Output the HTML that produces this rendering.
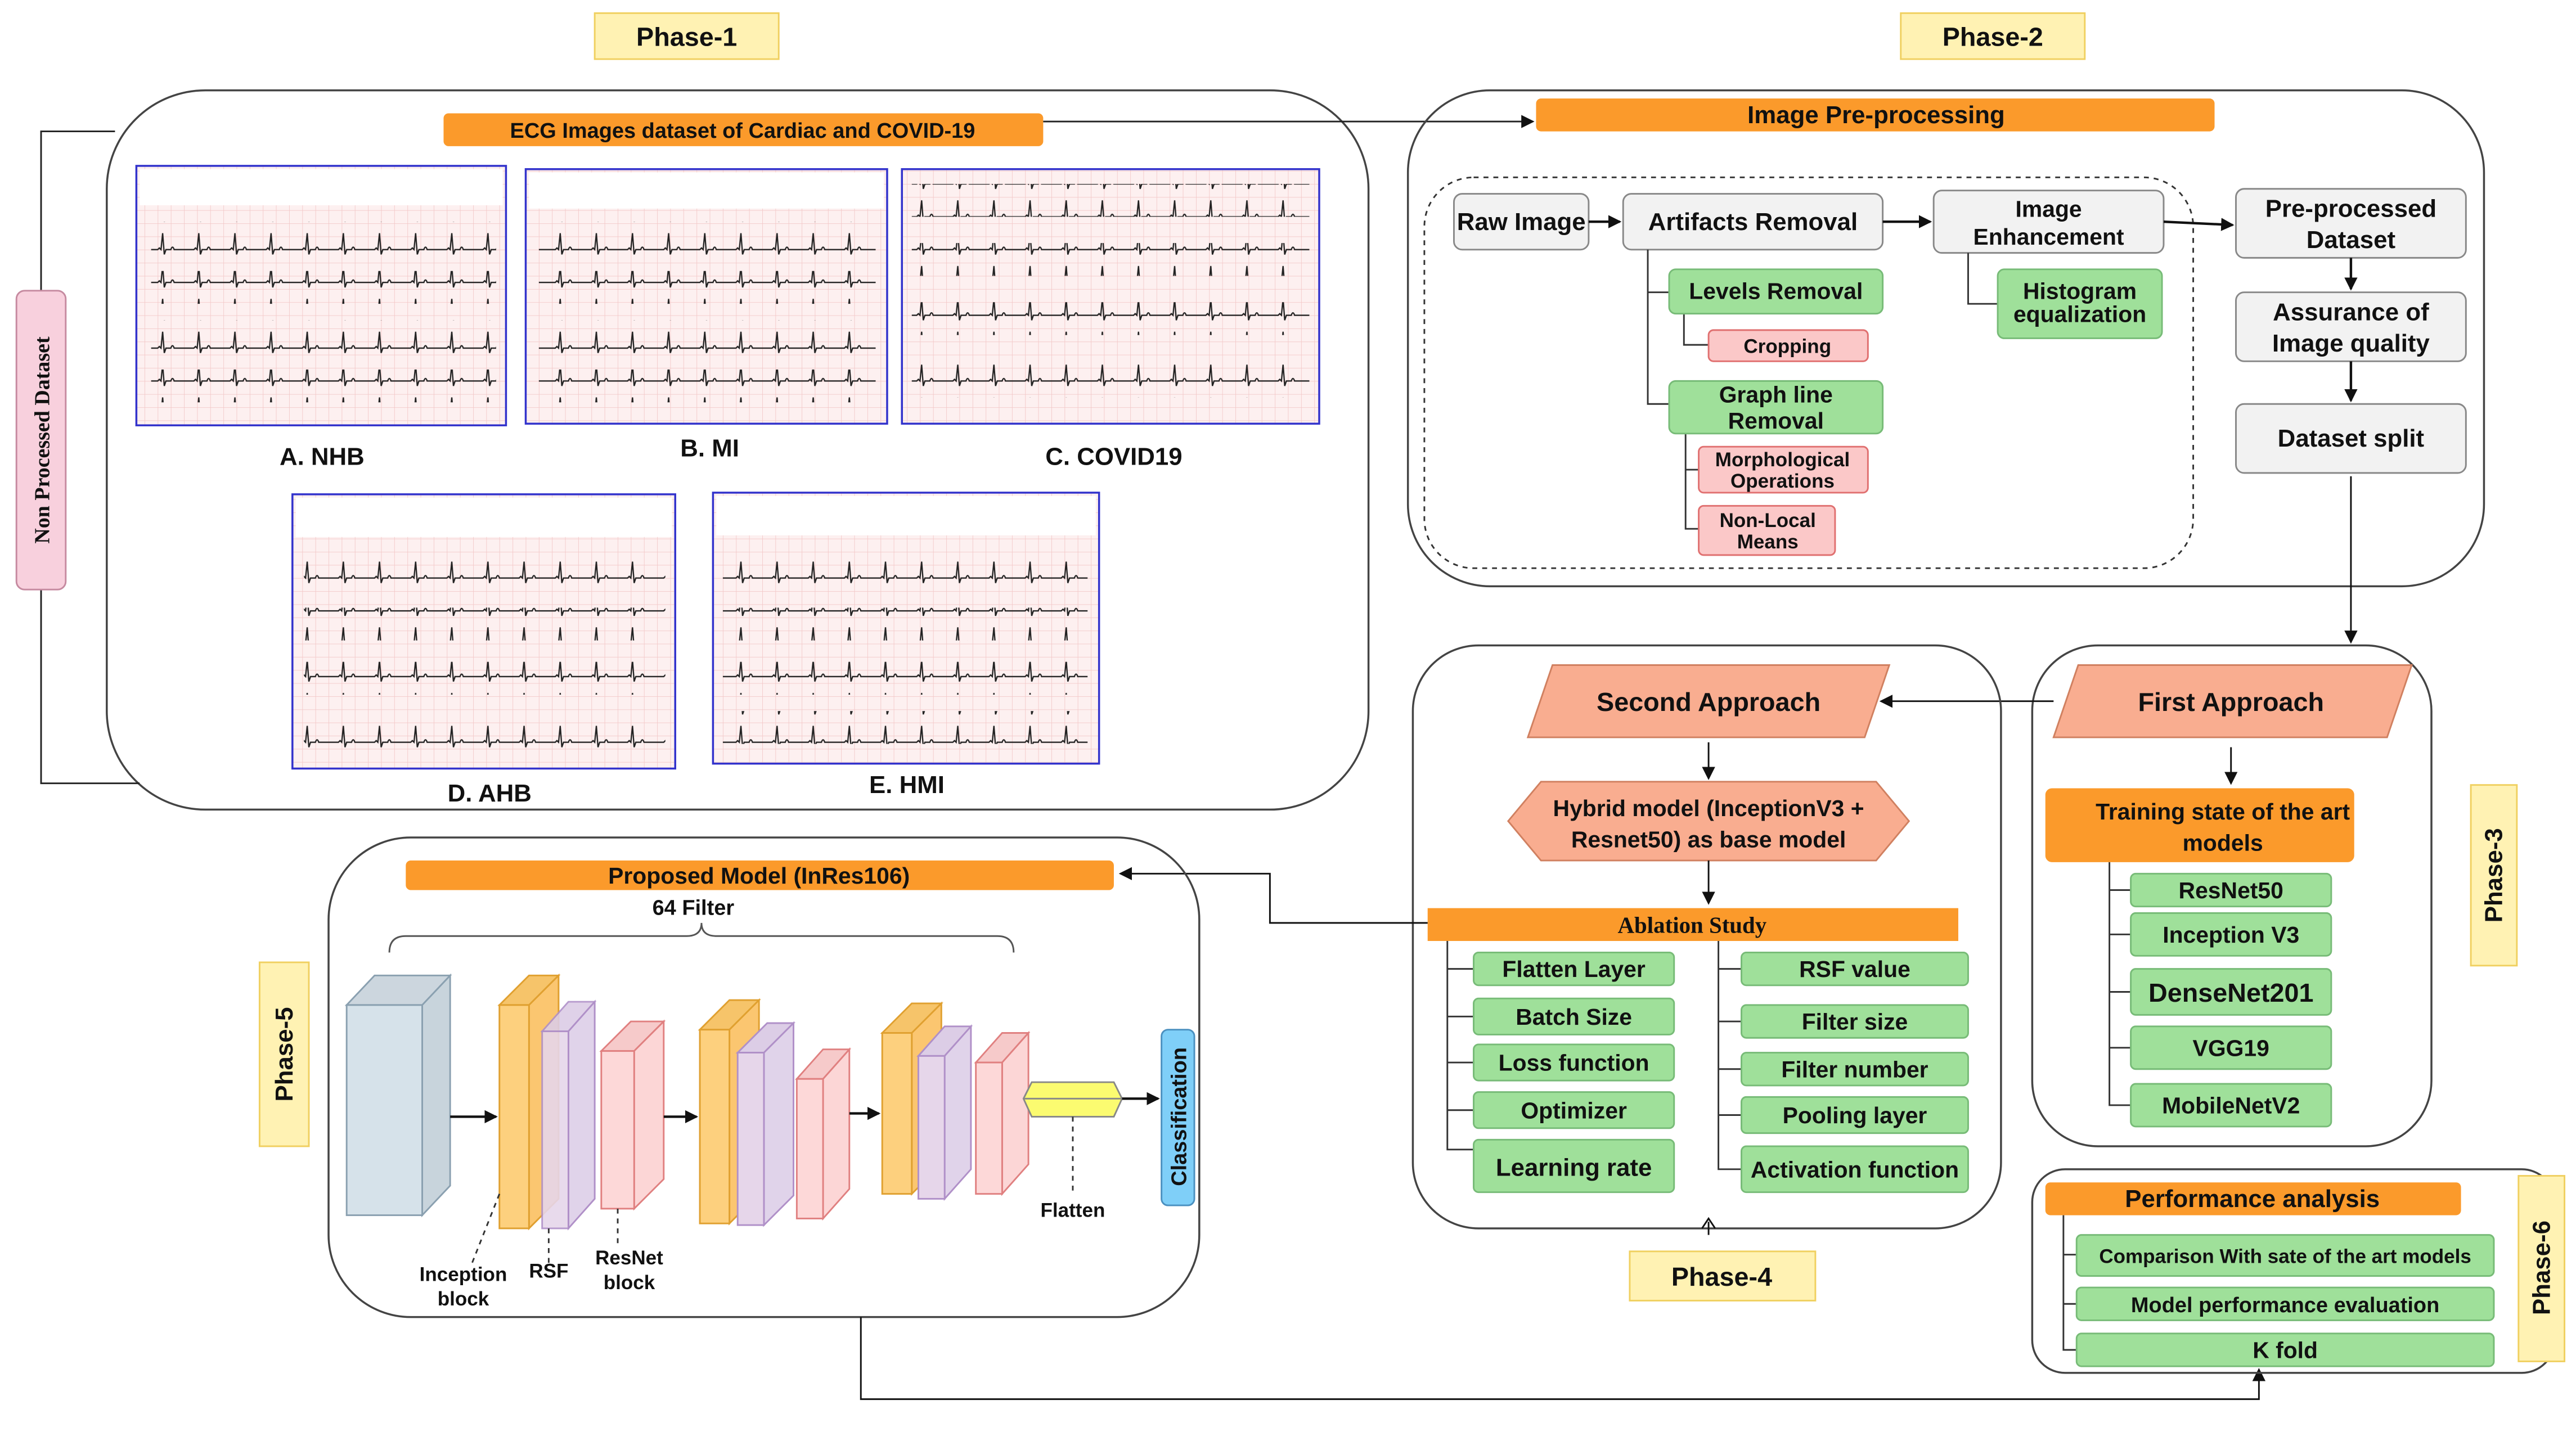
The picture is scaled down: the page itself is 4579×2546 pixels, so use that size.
<!DOCTYPE html>
<html><head><meta charset="utf-8"><style>
html,body{margin:0;padding:0;background:#fff;}
svg{display:block;}
text{font-family:"Liberation Sans",sans-serif;font-weight:bold;fill:#111;}
</style></head><body>
<svg width="4579" height="2546" viewBox="0 0 1568 872" preserveAspectRatio="none" xmlns="http://www.w3.org/2000/svg">
<defs>
<pattern id="grid" width="8" height="8" patternUnits="userSpaceOnUse">
<rect width="8" height="8" fill="#fdf0f0"/><path d="M0 0H8M0 0V8" stroke="#f3c8c8" stroke-width="0.6"/>
</pattern>
<pattern id="beat" width="22" height="20" patternUnits="userSpaceOnUse">
<path d="M0 12H8L9 11L10 12L11 2L12 15L13 12H16Q17 9 18 12H22" fill="none" stroke="#222" stroke-width="0.8"/>
</pattern>
<marker id="ar" markerWidth="8" markerHeight="8" refX="7" refY="4" orient="auto" markerUnits="userSpaceOnUse"><path d="M0 0L8 4L0 8z" fill="#111"/></marker>
</defs>

<!-- Phase labels -->
<rect x="362" y="8" width="112" height="28" fill="#fff2b3" stroke="#f0d060"/><text x="418" y="28" font-size="16" text-anchor="middle">Phase-1</text>
<rect x="1157" y="8" width="112" height="28" fill="#fff2b3" stroke="#f0d060"/><text x="1213" y="28" font-size="16" text-anchor="middle">Phase-2</text>

<!-- Phase 1 -->
<rect x="65" y="55" width="768" height="438" rx="60" fill="none" stroke="#444" stroke-width="1.2"/>
<path d="M70 80H25V477H85" fill="none" stroke="#222" stroke-width="1"/>
<rect x="10" y="177" width="30" height="182" rx="5" fill="#f8d0dd" stroke="#c68aa0"/>
<text transform="translate(30,268) rotate(-90)" font-size="13" text-anchor="middle" style="font-family:'Liberation Serif',serif">Non Processed Dataset</text>
<rect x="270" y="69" width="365" height="20" rx="3" fill="#fb9a2b"/><text x="452" y="84" font-size="13" text-anchor="middle">ECG Images dataset of Cardiac and COVID-19</text>
<path d="M635 74H933" stroke="#222" marker-end="url(#ar)"/>

<g stroke-width="1.2">
<rect x="83" y="101" width="225" height="158" fill="url(#grid)" stroke="#3333cc"/>
<rect x="320" y="103" width="220" height="155" fill="url(#grid)" stroke="#3333cc"/>
<rect x="549" y="103" width="254" height="155" fill="url(#grid)" stroke="#3333cc"/>
<rect x="178" y="301" width="233" height="167" fill="url(#grid)" stroke="#3333cc"/>
<rect x="434" y="300" width="235" height="165" fill="url(#grid)" stroke="#3333cc"/>
</g>
<g fill="#fff"><rect x="85" y="103" width="221" height="22"/><rect x="322" y="105" width="216" height="22"/><rect x="180" y="303" width="229" height="24"/><rect x="436" y="302" width="231" height="24"/></g>
<g fill="url(#beat)">
<rect x="92" y="135" width="210" height="20"/><rect x="92" y="165" width="210" height="20"/><rect x="92" y="195" width="210" height="20"/><rect x="92" y="225" width="210" height="20"/>
<rect x="328" y="135" width="205" height="20"/><rect x="328" y="165" width="205" height="20"/><rect x="328" y="195" width="205" height="20"/><rect x="328" y="225" width="205" height="20"/>
<rect x="555" y="112" width="242" height="20"/><rect x="555" y="148" width="242" height="20"/><rect x="555" y="184" width="242" height="20"/><rect x="555" y="222" width="242" height="20"/>
<rect x="185" y="338" width="220" height="20"/><rect x="185" y="370" width="220" height="20"/><rect x="185" y="403" width="220" height="20"/><rect x="185" y="437" width="220" height="20"/>
<rect x="440" y="338" width="222" height="20"/><rect x="440" y="370" width="222" height="20"/><rect x="440" y="403" width="222" height="20"/><rect x="440" y="433" width="222" height="20"/>
</g>
<g font-size="15" text-anchor="middle">
<text x="196" y="283">A. NHB</text><text x="432" y="278">B. MI</text><text x="678" y="283">C. COVID19</text>
<text x="298" y="488">D. AHB</text><text x="552" y="483">E. HMI</text>
</g>

<!-- Phase 2 -->
<rect x="857" y="55" width="655" height="302" rx="50" fill="none" stroke="#444" stroke-width="1.2"/>
<rect x="935" y="60" width="413" height="20" rx="3" fill="#fb9a2b"/><text x="1142" y="75" font-size="15" text-anchor="middle">Image Pre-processing</text>
<rect x="867" y="108" width="468" height="238" rx="30" fill="none" stroke="#333" stroke-dasharray="3,3"/>
<g fill="#f2f2f2" stroke="#888">
<rect x="885" y="118" width="82" height="34" rx="5"/><rect x="988" y="118" width="158" height="34" rx="5"/>
<rect x="1177" y="116" width="140" height="38" rx="5"/>
<rect x="1361" y="115" width="140" height="42" rx="5"/><rect x="1361" y="178" width="140" height="42" rx="5"/><rect x="1361" y="246" width="140" height="42" rx="5"/>
</g>
<g font-size="15" text-anchor="middle">
<text x="926" y="140">Raw Image</text><text x="1067" y="140">Artifacts Removal</text>
<text x="1247" y="132" font-size="14">Image</text><text x="1247" y="149" font-size="14">Enhancement</text>
<text x="1431" y="132">Pre-processed</text><text x="1431" y="151">Dataset</text>
<text x="1431" y="195">Assurance of</text><text x="1431" y="214">Image quality</text>
<text x="1431" y="272">Dataset split</text>
</g>
<g stroke="#111" stroke-width="1.5" fill="none">
<path d="M967 135H986" marker-end="url(#ar)"/><path d="M1146 135H1175" marker-end="url(#ar)"/>
<path d="M1317 135L1359 137" marker-end="url(#ar)"/>
<path d="M1431 157V176" marker-end="url(#ar)"/><path d="M1431 220V244" marker-end="url(#ar)"/>
</g>
<g stroke="#333" fill="none">
<path d="M1003 152V246H1016M1003 178H1016"/><path d="M1025 191V210H1040"/>
<path d="M1026 264V322H1034M1026 286H1034"/><path d="M1198 154V185H1216"/>
</g>
<g fill="#9fe09a" stroke="#77bb77">
<rect x="1016" y="164" width="130" height="27" rx="4"/><rect x="1016" y="232" width="130" height="32" rx="4"/>
<rect x="1216" y="164" width="100" height="42" rx="4"/>
</g>
<g fill="#fbc8c8" stroke="#e07070">
<rect x="1040" y="201" width="97" height="19" rx="3"/><rect x="1034" y="272" width="103" height="28" rx="3"/><rect x="1034" y="308" width="83" height="30" rx="3"/>
</g>
<g text-anchor="middle" font-size="14">
<text x="1081" y="182">Levels Removal</text><text x="1081" y="245">Graph line</text><text x="1081" y="261">Removal</text>
<text x="1266" y="182">Histogram</text><text x="1266" y="196">equalization</text>
<text x="1088" y="215" font-size="12">Cropping</text>
<text x="1085" y="284" font-size="12">Morphological</text><text x="1085" y="297" font-size="12">Operations</text>
<text x="1076" y="321" font-size="12">Non-Local</text><text x="1076" y="334" font-size="12">Means</text>
</g>
<path d="M1431 290V391" stroke="#111" fill="none" marker-end="url(#ar)"/>

<!-- Phase 3 -->
<rect x="1237" y="393" width="243" height="305" rx="40" fill="none" stroke="#444" stroke-width="1.2"/>
<polygon points="1265,405 1468,405 1453,449 1250,449" fill="#f9ad90" stroke="#d08060"/>
<text x="1358" y="433" font-size="16" text-anchor="middle">First Approach</text>
<path d="M1250 427H1145" stroke="#111" marker-end="url(#ar)"/>
<path d="M1358 455V477" stroke="#111" marker-end="url(#ar)"/>
<rect x="1245" y="480" width="188" height="45" rx="4" fill="#fb9a2b"/>
<text x="1353" y="499" font-size="14" text-anchor="middle">Training state of the art</text><text x="1353" y="518" font-size="14" text-anchor="middle">models</text>
<path d="M1284 525V673H1297M1284 542H1297M1284 569H1297M1284 604H1297M1284 638H1297" stroke="#333" fill="none"/>
<g fill="#9fe09a" stroke="#77bb77">
<rect x="1297" y="532" width="122" height="20" rx="3"/><rect x="1297" y="556" width="122" height="26" rx="3"/>
<rect x="1297" y="590" width="122" height="28" rx="3"/><rect x="1297" y="625" width="122" height="26" rx="3"/><rect x="1297" y="660" width="122" height="26" rx="3"/>
</g>
<g font-size="14" text-anchor="middle"><text x="1358" y="547">ResNet50</text><text x="1358" y="574">Inception V3</text>
<text x="1358" y="610" font-size="16">DenseNet201</text><text x="1358" y="643">VGG19</text><text x="1358" y="678">MobileNetV2</text></g>
<rect x="1504" y="478" width="28" height="110" fill="#fff2b3" stroke="#f0d060"/>
<text transform="translate(1523,533) rotate(-90)" font-size="15" text-anchor="middle">Phase-3</text>

<!-- Phase 4 -->
<rect x="860" y="393" width="358" height="355" rx="40" fill="none" stroke="#444" stroke-width="1.2"/>
<polygon points="945,405 1150,405 1135,449 930,449" fill="#f9ad90" stroke="#d08060"/>
<text x="1040" y="433" font-size="16" text-anchor="middle">Second Approach</text>
<path d="M1040 452V474" stroke="#111" marker-end="url(#ar)"/>
<polygon points="938,476 1142,476 1162,500 1142,524 938,524 918,500" fill="#f9ad90" stroke="#d08060"/>
<text x="1040" y="497" font-size="14" text-anchor="middle">Hybrid model (InceptionV3 +</text><text x="1040" y="516" font-size="14" text-anchor="middle">Resnet50) as  base model</text>
<path d="M1040 524V550" stroke="#111" marker-end="url(#ar)"/>
<rect x="869" y="553" width="323" height="20" fill="#fb9a2b"/>
<text x="1030" y="568" font-size="14" text-anchor="middle" style="font-family:'Liberation Serif',serif">Ablation Study</text>
<path d="M881 573V700H897M881 590H897M881 619H897M881 647H897M881 676H897" stroke="#333" fill="none"/>
<path d="M1046 573V712H1060M1046 590H1060M1046 622H1060M1046 651H1060M1046 679H1060" stroke="#333" fill="none"/>
<g fill="#9fe09a" stroke="#77bb77">
<rect x="897" y="580" width="122" height="20" rx="3"/><rect x="897" y="608" width="122" height="22" rx="3"/><rect x="897" y="636" width="122" height="22" rx="3"/>
<rect x="897" y="665" width="122" height="22" rx="3"/><rect x="897" y="694" width="122" height="32" rx="3"/>
<rect x="1060" y="580" width="138" height="20" rx="3"/><rect x="1060" y="612" width="138" height="20" rx="3"/><rect x="1060" y="641" width="138" height="20" rx="3"/>
<rect x="1060" y="668" width="138" height="22" rx="3"/><rect x="1060" y="698" width="138" height="28" rx="3"/>
</g>
<g font-size="14" text-anchor="middle">
<text x="958" y="595">Flatten Layer</text><text x="958" y="624">Batch Size</text><text x="958" y="652">Loss function</text>
<text x="958" y="681">Optimizer</text><text x="958" y="716" font-size="15">Learning rate</text>
<text x="1129" y="595">RSF value</text><text x="1129" y="627">Filter size</text><text x="1129" y="656">Filter number</text>
<text x="1129" y="684">Pooling layer</text><text x="1129" y="717">Activation function</text>
</g>
<path d="M1040 752V744M1036 748L1040 742L1044 748" stroke="#111" fill="none"/>
<rect x="992" y="762" width="113" height="30" fill="#fff2b3" stroke="#f0d060"/><text x="1048" y="783" font-size="16" text-anchor="middle">Phase-4</text>
<path d="M869 562H773V532H682" stroke="#111" fill="none" marker-end="url(#ar)"/>

<!-- Phase 5 -->
<rect x="200" y="510" width="530" height="292" rx="50" fill="none" stroke="#444" stroke-width="1.2"/>
<rect x="247" y="524" width="431" height="18" rx="3" fill="#fb9a2b"/><text x="462" y="538" font-size="14" text-anchor="middle">Proposed Model (InRes106)</text>
<text x="422" y="557" font-size="13" text-anchor="middle">64 Filter</text>
<path d="M237 580Q237 570 247 570H418Q427 570 427 562Q427 570 436 570H607Q617 570 617 580" stroke="#555" fill="none"/>
<rect x="158" y="586" width="30" height="112" fill="#fff2b3" stroke="#f0d060"/>
<text transform="translate(178,642) rotate(-90)" font-size="15" text-anchor="middle">Phase-5</text>
<!-- blocks: front, top, side -->
<g stroke-width="1">
<polygon points="211,612 228,594 274,594 257,612" fill="#ccd6de" stroke="#8aa0b0"/><polygon points="257,612 274,594 274,722 257,740" fill="#c8d4dc" stroke="#8aa0b0"/><rect x="211" y="612" width="46" height="128" fill="#d6e2ea" stroke="#8aa0b0"/>
<polygon points="304,612 322,594 340,594 322,612" fill="#f6c46a" stroke="#e0a030"/><polygon points="322,612 340,594 340,730 322,748" fill="#fbc670" stroke="#e0a030"/><rect x="304" y="612" width="18" height="136" fill="#fdd07e" stroke="#e0a030"/>
<polygon points="330,628 346,610 362,610 346,628" fill="#dccde6" stroke="#b090c8" opacity="0.9"/><polygon points="346,628 362,610 362,730 346,748" fill="#e0d3ea" stroke="#b090c8"/><rect x="330" y="628" width="16" height="120" fill="#e6d6ea" stroke="#b090c8" opacity="0.9"/>
<polygon points="366,640 384,622 404,622 386,640" fill="#f6caca" stroke="#e08080"/><polygon points="386,640 404,622 404,718 386,736" fill="#fcd6d6" stroke="#e08080"/><rect x="366" y="640" width="20" height="96" fill="#fdd8d8" stroke="#e08080"/>
<polygon points="426,627 444,609 462,609 444,627" fill="#f6c46a" stroke="#e0a030"/><polygon points="444,627 462,609 462,727 444,745" fill="#fbc670" stroke="#e0a030"/><rect x="426" y="627" width="18" height="118" fill="#fdd07e" stroke="#e0a030"/>
<polygon points="449,641 467,623 483,623 465,641" fill="#dccde6" stroke="#b090c8"/><polygon points="465,641 483,623 483,728 465,746" fill="#e0d3ea" stroke="#b090c8"/><rect x="449" y="641" width="16" height="105" fill="#e6d6ea" stroke="#b090c8"/>
<polygon points="485,657 501,639 517,639 501,657" fill="#f6caca" stroke="#e08080"/><polygon points="501,657 517,639 517,724 501,742" fill="#fcd6d6" stroke="#e08080"/><rect x="485" y="657" width="16" height="85" fill="#fdd8d8" stroke="#e08080"/>
<polygon points="537,629 555,611 573,611 555,629" fill="#f6c46a" stroke="#e0a030"/><polygon points="555,629 573,611 573,709 555,727" fill="#fbc670" stroke="#e0a030"/><rect x="537" y="629" width="18" height="98" fill="#fdd07e" stroke="#e0a030"/>
<polygon points="559,643 575,625 591,625 575,643" fill="#dccde6" stroke="#b090c8"/><polygon points="575,643 591,625 591,712 575,730" fill="#e0d3ea" stroke="#b090c8"/><rect x="559" y="643" width="16" height="87" fill="#e6d6ea" stroke="#b090c8"/>
<polygon points="594,647 610,629 626,629 610,647" fill="#f6caca" stroke="#e08080"/><polygon points="610,647 626,629 626,709 610,727" fill="#fcd6d6" stroke="#e08080"/><rect x="594" y="647" width="16" height="80" fill="#fdd8d8" stroke="#e08080"/>
<polygon points="623,669 628,659 678,659 683,669 678,680 628,680" fill="#fbfb70" stroke="#888"/><path d="M623 669H683" stroke="#888"/>
</g>
<g stroke="#111" stroke-width="1.5" fill="none">
<path d="M274 680H302" marker-end="url(#ar)"/><path d="M404 680H424" marker-end="url(#ar)"/><path d="M517 678H535" marker-end="url(#ar)"/><path d="M683 669H705" marker-end="url(#ar)"/>
</g>
<g stroke="#333" stroke-dasharray="3,3" fill="none"><path d="M304 727L287 770"/><path d="M334 748V770"/><path d="M376 736V760"/><path d="M653 680V727"/></g>
<g font-size="12" text-anchor="middle" font-weight="normal"><text x="282" y="780">Inception</text><text x="282" y="795">block</text><text x="334" y="778">RSF</text>
<text x="383" y="770">ResNet</text><text x="383" y="785">block</text><text x="653" y="741">Flatten</text></g>
<rect x="707" y="627" width="20" height="107" rx="4" fill="#7fcff8" stroke="#4a90c0"/>
<text transform="translate(722,680) rotate(-90)" font-size="13" text-anchor="middle">Classification</text>
<path d="M524 802V852H1375V834" stroke="#111" fill="none" marker-end="url(#ar)"/>

<!-- Phase 6 -->
<rect x="1237" y="712" width="318" height="124" rx="20" fill="none" stroke="#444" stroke-width="1.2"/>
<rect x="1245" y="720" width="253" height="20" rx="3" fill="#fb9a2b"/><text x="1371" y="735" font-size="15" text-anchor="middle">Performance analysis</text>
<path d="M1256 740V822H1264M1256 764H1264M1256 794H1264" stroke="#333" fill="none"/>
<g fill="#9fe09a" stroke="#77bb77"><rect x="1264" y="752" width="254" height="25" rx="3"/><rect x="1264" y="784" width="254" height="20" rx="3"/><rect x="1264" y="812" width="254" height="20" rx="3"/></g>
<g text-anchor="middle"><text x="1391" y="769" font-size="12">Comparison With sate of the art models</text><text x="1391" y="799" font-size="13">Model performance evaluation</text><text x="1391" y="827" font-size="14">K fold</text></g>
<rect x="1533" y="716" width="28" height="113" fill="#fff2b3" stroke="#f0d060"/>
<text transform="translate(1552,772) rotate(-90)" font-size="15" text-anchor="middle">Phase-6</text>
</svg>
</body></html>
